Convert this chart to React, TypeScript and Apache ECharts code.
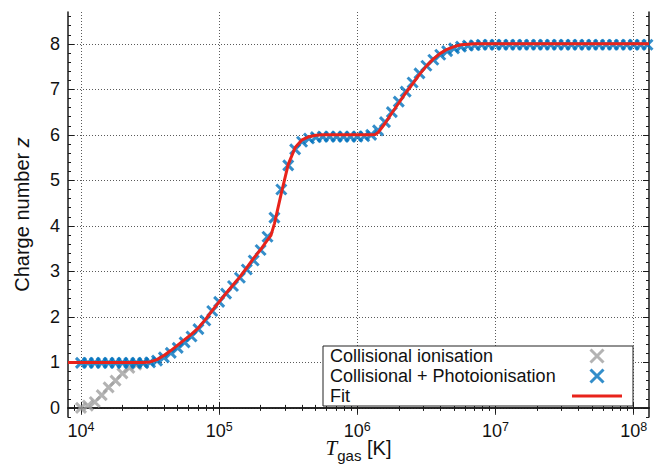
import React, { useEffect, useRef } from "react";
import * as echarts from "echarts";

// log10 of gas temperature for the simulated points
const logT = [
  4.0, 4.05, 4.1, 4.15, 4.2, 4.25, 4.3, 4.35, 4.4, 4.45,
  4.5, 4.55, 4.6, 4.65, 4.7, 4.75, 4.8, 4.85, 4.9, 4.95,
  5.0, 5.05, 5.1, 5.15, 5.2, 5.25, 5.3, 5.35, 5.4, 5.45,
  5.5, 5.55, 5.6, 5.65, 5.7, 5.75, 5.8, 5.85, 5.9, 5.95,
  6.0, 6.05, 6.1, 6.15, 6.2, 6.25, 6.3, 6.35, 6.4, 6.45,
  6.5, 6.55, 6.6, 6.65, 6.7, 6.75, 6.8, 6.85, 6.9, 6.95,
  7.0, 7.05, 7.1, 7.15, 7.2, 7.25, 7.3, 7.35, 7.4, 7.45,
  7.5, 7.55, 7.6, 7.65, 7.7, 7.75, 7.8, 7.85, 7.9, 7.95,
  8.0, 8.05, 8.1,
];
// Collisional + Photoionisation
const zPhoto = [
  0.99, 0.99, 0.99, 0.99, 0.99, 0.99, 0.99, 0.99, 0.99, 0.99,
  1.0, 1.04, 1.11, 1.21, 1.32, 1.44, 1.57, 1.73, 1.92, 2.13,
  2.33, 2.51, 2.68, 2.86, 3.04, 3.24, 3.47, 3.76, 4.18, 4.8,
  5.33, 5.68, 5.85, 5.92, 5.95, 5.96, 5.96, 5.96, 5.96, 5.96,
  5.96, 5.97, 6.0, 6.1, 6.28, 6.5, 6.73, 6.95, 7.15, 7.35,
  7.52, 7.65, 7.76, 7.84, 7.9, 7.94, 7.96, 7.97, 7.98, 7.98,
  7.98, 7.98, 7.98, 7.98, 7.98, 7.98, 7.98, 7.98, 7.98, 7.98,
  7.98, 7.98, 7.98, 7.98, 7.98, 7.98, 7.98, 7.98, 7.98, 7.98,
  7.98, 7.98, 7.98,
];
// Collisional ionisation (visible part, below the blue points)
const logTColl = [4.0, 4.05, 4.1, 4.15, 4.2, 4.25, 4.3, 4.35, 4.4, 4.45];
const zColl = [0.0, 0.05, 0.13, 0.28, 0.45, 0.6, 0.76, 0.88, 0.95, 0.98];
// Fit
const logTFit = [
  3.906, 4.0, 4.45, 4.5, 4.55, 4.6, 4.65, 4.7, 4.75, 4.8,
  4.85, 4.9, 4.95, 5.0, 5.05, 5.1, 5.15, 5.2, 5.25, 5.3,
  5.35, 5.375, 5.4, 5.45, 5.5, 5.55, 5.6, 5.65, 5.7, 5.75,
  6.0, 6.1, 6.13, 6.15, 6.2, 6.25, 6.3, 6.35, 6.4, 6.45,
  6.5, 6.55, 6.6, 6.65, 6.7, 6.75, 6.8, 6.85, 7.5, 8.111,
];
const zFit = [
  1, 1, 1, 1.01, 1.06, 1.15, 1.26, 1.38, 1.5, 1.62,
  1.76, 1.94, 2.14, 2.33, 2.52, 2.7, 2.88, 3.08, 3.29, 3.48,
  3.69, 3.79, 4.05, 4.72, 5.35, 5.72, 5.89, 5.96, 5.99, 6.0,
  6.0, 6.0, 6.01, 6.05, 6.25, 6.48, 6.7, 6.92, 7.12, 7.33,
  7.51, 7.67, 7.79, 7.88, 7.94, 7.98, 7.99, 8.0, 8.0, 8.0,
];
// Axis ticks
const xMajorExp = [4, 5, 6, 7, 8];
const yMajor = [0, 1, 2, 3, 4, 5, 6, 7, 8];

const X_MIN = 3.906;
const X_MAX = 8.111;
const Y_MIN = -0.2;
const Y_MAX = 8.7;

const FONT = "Liberation Sans";
const BLUE = "#0072bd";
const GRAY = "#a0a0a0";
const RED = "#e8231b";
const CROSS = "path://M0,0L10,10M10,0L0,10";
const BAR = "path://M0,0L50,0L50,3L0,3Z";

export default function App() {
  const ref = useRef<HTMLDivElement>(null);
  useEffect(() => {
    if (!ref.current) return;
    const chart = echarts.init(ref.current, undefined, { renderer: "svg" });

    const minorX: number[] = [];
    for (let n = 3; n <= 8; n++) {
      for (let k = 2; k <= 9; k++) {
        const v = n + Math.log10(k);
        if (v > X_MIN && v < X_MAX) minorX.push(v);
      }
    }
    const minorY: number[] = [];
    for (let i = -1; i <= 43; i++) {
      const v = Math.round(i * 2) / 10;
      if (v >= Y_MIN && v <= Y_MAX) minorY.push(v);
    }

    const lineCol = "#1a1a1a";
    const gridLine = { show: true, lineStyle: { color: "#5a5a5a", width: 1, type: [1, 2] as any } };
    const xBase = { type: "value", min: X_MIN, max: X_MAX, gridIndex: 0 };
    const yBase = { type: "value", min: Y_MIN, max: Y_MAX, gridIndex: 0 };

    const xAxes = [
      {
        ...xBase,
        position: "bottom",
        axisLine: { show: true, lineStyle: { color: lineCol, width: 1.5 } },
        axisTick: { show: true, inside: true, length: 6, customValues: xMajorExp, lineStyle: { color: lineCol, width: 1 } },
        axisLabel: {
          show: true,
          customValues: xMajorExp,
          margin: 3,
          fontFamily: FONT,
          fontSize: 18,
          color: "#111",
          formatter: (v: number) => `10{sup|${Math.round(v)}}`,
          rich: { sup: { fontFamily: FONT, fontSize: 12.5, color: "#111", padding: [0, 0, 8, 0], verticalAlign: "bottom" } },
        },
        splitLine: gridLine,
        name: "{t|T}{s|gas}{n| [K]}",
        nameLocation: "middle",
        nameGap: 20,
        nameMoveOverlap: false,
        nameTextStyle: {
          rich: {
            t: { fontFamily: "Liberation Serif", fontStyle: "italic", fontSize: 21, color: "#111", padding: [0, 0, 5, 0], verticalAlign: "bottom" },
            s: { fontFamily: FONT, fontSize: 15, color: "#111", verticalAlign: "bottom" },
            n: { fontFamily: FONT, fontSize: 20, color: "#111", padding: [0, 0, 5, 0], verticalAlign: "bottom" },
          },
        },
      },
      {
        ...xBase,
        position: "bottom",
        axisLine: { show: false },
        axisTick: { show: true, inside: true, length: 3, customValues: minorX, lineStyle: { color: lineCol, width: 1 } },
        axisLabel: { show: false },
        splitLine: { show: false },
      },
      {
        ...xBase,
        position: "top",
        axisLine: { show: true, lineStyle: { color: lineCol, width: 1.5 } },
        axisTick: { show: true, inside: true, length: 6, customValues: xMajorExp, lineStyle: { color: lineCol, width: 1 } },
        axisLabel: { show: false },
        splitLine: { show: false },
      },
      {
        ...xBase,
        position: "top",
        axisLine: { show: false },
        axisTick: { show: true, inside: true, length: 3, customValues: minorX, lineStyle: { color: lineCol, width: 1 } },
        axisLabel: { show: false },
        splitLine: { show: false },
      },
    ];

    const yAxes = [
      {
        ...yBase,
        position: "left",
        axisLine: { show: true, lineStyle: { color: lineCol, width: 1.5 } },
        axisTick: { show: true, inside: true, length: 6, customValues: yMajor, lineStyle: { color: lineCol, width: 1 } },
        axisLabel: { show: true, customValues: yMajor, margin: 8, fontFamily: FONT, fontSize: 18, color: "#111" },
        splitLine: gridLine,
        name: "Charge number {i|z}",
        nameLocation: "middle",
        nameGap: 36,
        nameMoveOverlap: false,
        nameTextStyle: {
          fontFamily: FONT,
          fontSize: 20,
          color: "#111",
          rich: { i: { fontFamily: FONT, fontStyle: "italic", fontSize: 20, color: "#111" } },
        },
      },
      {
        ...yBase,
        position: "left",
        axisLine: { show: false },
        axisTick: { show: true, inside: true, length: 3, customValues: minorY, lineStyle: { color: lineCol, width: 1 } },
        axisLabel: { show: false },
        splitLine: { show: false },
      },
      {
        ...yBase,
        position: "right",
        axisLine: { show: true, lineStyle: { color: lineCol, width: 1.5 } },
        axisTick: { show: true, inside: true, length: 6, customValues: yMajor, lineStyle: { color: lineCol, width: 1 } },
        axisLabel: { show: false },
        splitLine: { show: false },
      },
      {
        ...yBase,
        position: "right",
        axisLine: { show: false },
        axisTick: { show: true, inside: true, length: 3, customValues: minorY, lineStyle: { color: lineCol, width: 1 } },
        axisLabel: { show: false },
        splitLine: { show: false },
      },
    ];

    const option: any = {
      animation: false,
      backgroundColor: "#fff",
      grid: { left: 68, right: 8, top: 12, bottom: 47, containLabel: false, outerBoundsMode: "none" },
      xAxis: xAxes,
      yAxis: yAxes,
      legend: {
        left: 323,
        top: 346,
        orient: "vertical",
        align: "right",
        itemWidth: 50,
        itemHeight: 13,
        itemGap: 2,
        padding: [1, 11, 1, 7],
        backgroundColor: "#fff",
        borderColor: "#222",
        borderWidth: 1,
        borderRadius: 0,
        selectedMode: false,
        formatter: (name: string) => `{a|${name}}`,
        textStyle: {
          fontFamily: FONT,
          fontSize: 18,
          color: "#111",
          rich: { a: { fontFamily: FONT, fontSize: 18, color: "#111", width: 237, align: "left", lineHeight: 20 } },
        },
        data: [
          { name: "Collisional ionisation", itemStyle: { color: GRAY, borderColor: GRAY, borderWidth: 3 } },
          { name: "Collisional + Photoionisation", itemStyle: { color: BLUE, borderColor: BLUE, borderWidth: 3 } },
          { name: "Fit", icon: BAR, itemStyle: { color: RED, borderWidth: 0 } },
        ],
      },
      series: [
        {
          name: "Collisional ionisation",
          type: "scatter",
          xAxisIndex: 0,
          yAxisIndex: 0,
          symbol: CROSS,
          symbolSize: 10,
          symbolKeepAspect: true,
          itemStyle: { color: GRAY, borderColor: GRAY, borderWidth: 3 },
          data: logTColl.map((x, i) => [x, zColl[i]]),
        },
        {
          name: "Collisional + Photoionisation",
          type: "scatter",
          xAxisIndex: 0,
          yAxisIndex: 0,
          symbol: CROSS,
          symbolSize: 10,
          symbolKeepAspect: true,
          itemStyle: { color: BLUE, borderColor: BLUE, borderWidth: 3 },
          data: logT.map((x, i) => [x, zPhoto[i]]),
        },
        {
          name: "Fit",
          type: "line",
          xAxisIndex: 0,
          yAxisIndex: 0,
          symbol: "none",
          showSymbol: false,
          smooth: false,
          lineStyle: { color: RED, width: 3 },
          itemStyle: { color: RED },
          data: logTFit.map((x, i) => [x, zFit[i]]),
        },
      ],
    };
    chart.setOption(option);
    return () => chart.dispose();
  }, []);
  return <div ref={ref} style={{ position: "absolute", left: 0, top: 0, width: 657, height: 464 }} />;
}
